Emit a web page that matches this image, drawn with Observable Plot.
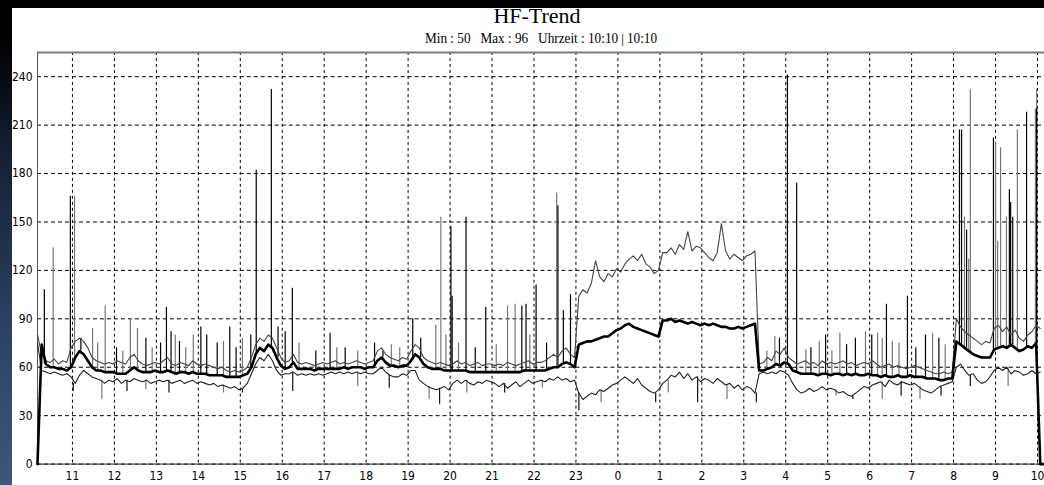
<!DOCTYPE html>
<html>
<head>
<meta charset="utf-8">
<script src="https://cdn.jsdelivr.net/npm/d3@7"></script>
<script src="https://cdn.jsdelivr.net/npm/@observablehq/plot@0.6"></script>
<style>
html, body { margin: 0; padding: 0; background: #000; width: 1044px; height: 485px; overflow: hidden; }
#strip { position: absolute; left: 0; top: 0; width: 12px; height: 485px;
  background: linear-gradient(#000 0%, #000 8%, #141e30 30%, #2c3f5e 65%, #3f5779 100%); }
#panel { position: absolute; left: 12px; top: 8px; width: 1032px; height: 477px; background: #fff; }
#title { position: absolute; left: 537px; top: 5px; transform: translateX(-50%);
  font-family: "Liberation Serif", "DejaVu Serif", serif; font-size: 22px; line-height: 22px;
  white-space: nowrap; color: #000; }
#subtitle { position: absolute; left: 541px; top: 30px;
  font-family: "Liberation Serif", "DejaVu Serif", serif; font-size: 15.5px; line-height: 15.5px;
  white-space: nowrap; color: #000; transform-origin: 50% 50%; }
#subtitle b { font-size: 0.75em; color: #000; }
#chart { position: absolute; left: 12px; top: 44px; }
</style>
</head>
<body>
<div id="strip"></div>
<div id="panel"></div>
<div id="title">HF-Trend</div>
<div id="subtitle">Min : 50&nbsp;&nbsp;&nbsp;Max : 96&nbsp;&nbsp;&nbsp;Uhrzeit : 10:10 <b>|</b> 10:10</div>
<div id="chart"></div>
<script>
// time axis: hours, first sample at 10:10, one sample every 6 minutes; values after midnight are 24+
const startHour = 10 + 10 / 60;
const stepHours = 0.1;
const yDomain = [0, 255];
const yTicks = [0, 30, 60, 90, 120, 150, 180, 210, 240];
const hourTicks = [11, 12, 13, 14, 15, 16, 17, 18, 19, 20, 21, 22, 23, 24, 25, 26, 27, 28, 29, 30, 31, 32, 33, 34];

// upper band (max), one row per hour starting 10:10
const upper = [
  80, 68, 64, 63, 65, 62, 64, 63, 72, 76,
  78, 76, 72, 66, 64, 63, 62, 63, 62, 64,
  63, 62, 66, 68, 64, 62, 61, 62, 63, 62,
  64, 66, 62, 61, 63, 62, 61, 64, 62, 61,
  62, 61, 60, 59, 60, 58, 57, 58, 57, 58,
  60, 66, 74, 78, 76, 80, 78, 72, 66, 63,
  64, 68, 63, 62, 63, 62, 61, 62, 63, 62,
  63, 64, 62, 63, 62, 63, 64, 63, 62, 63,
  64, 70, 72, 68, 66, 65, 64, 66, 65, 70,
  74, 72, 66, 64, 63, 62, 63, 62, 61, 62,
  64, 62, 63, 61, 62, 63, 61, 62, 62, 61,
  62, 61, 63, 62, 61, 62, 63, 64, 62, 63,
  63, 64, 66, 68, 66, 70, 72, 68, 66, 104,
  108, 106, 112, 126, 116, 113, 118, 116, 121, 119,
  124, 127, 129, 126, 130, 124, 122, 118, 120, 131,
  131, 134, 130, 136, 133, 144, 132, 135, 134, 131,
  128, 126, 131, 149, 132, 127, 130, 128, 126, 129,
  130, 132, 62, 63, 66, 64, 70, 68, 72, 66,
  64, 62, 63, 64, 62, 63, 61, 64, 62, 63,
  62, 63, 64, 62, 63, 61, 62, 63, 62, 64,
  62, 60, 61, 62, 60, 61, 60, 59, 60, 61,
  60, 59, 58, 57, 56, 56, 57, 56, 57, 90,
  85, 82, 80, 78, 76, 74, 76, 75, 84, 86,
  82, 85, 80, 83, 78, 76, 80, 82, 86, 84
];

// mean (bold)
const mean = [
  0, 74, 62, 60, 60, 59, 59, 58, 60, 66,
  70, 68, 64, 60, 58, 58, 57, 57, 57, 56,
  56, 56, 58, 60, 58, 57, 57, 57, 58, 57,
  57, 58, 57, 56, 57, 57, 56, 57, 56, 56,
  56, 55, 55, 55, 55, 54, 54, 54, 54, 55,
  56, 60, 68, 72, 70, 74, 72, 66, 61, 59,
  60, 63, 59, 59, 59, 59, 58, 59, 59, 59,
  59, 59, 59, 60, 59, 60, 60, 60, 59, 60,
  60, 64, 66, 63, 61, 61, 60, 61, 61, 64,
  68, 66, 62, 60, 59, 59, 59, 58, 58, 58,
  58, 58, 58, 57, 57, 57, 57, 57, 57, 57,
  57, 57, 57, 57, 57, 57, 58, 58, 58, 58,
  58, 58, 59, 60, 60, 62, 63, 62, 60, 74,
  75, 76, 76, 77, 78, 79, 79, 81, 83, 84,
  86, 87, 85, 84, 83, 82, 81, 80, 79, 89,
  89, 90, 88, 89, 88, 87, 88, 87, 86, 87,
  86, 87, 86, 85, 85, 84, 84, 85, 84, 85,
  86, 87, 58, 58, 59, 60, 62, 61, 63, 62,
  58, 57, 56, 56, 56, 56, 55, 56, 56, 55,
  56, 56, 55, 56, 55, 56, 55, 55, 56, 55,
  55, 54, 55, 54, 54, 55, 54, 54, 55, 54,
  54, 54, 53, 53, 53, 52, 52, 53, 53, 76,
  74, 72, 70, 68, 67, 66, 66, 66, 71, 72,
  73, 72, 74, 72, 70, 71, 73, 72, 75, 0,
  0
];

// lower band (min)
const lower = [
  75, 58, 57, 56, 57, 56, 55, 56, 54, 50,
  55, 58, 56, 54, 53, 52, 50, 52, 51, 53,
  50, 52, 51, 53, 52, 51, 52, 50, 51, 52,
  51, 52, 50, 51, 52, 50, 51, 52, 50, 51,
  50, 49, 50, 48, 49, 48, 47, 48, 46, 47,
  50, 56, 62, 66, 64, 68, 64, 58, 55, 56,
  56, 57, 55, 56, 55, 56, 55, 56, 55, 56,
  57, 56, 57, 56, 57, 56, 57, 56, 57, 56,
  56, 58, 60, 57, 55, 54, 54, 56, 55, 58,
  58, 52, 50, 48, 47, 46, 47, 48, 46, 50,
  52, 50, 52, 50, 49, 51, 50, 52, 51, 50,
  48, 50, 47, 49, 51, 48, 50, 52, 50, 51,
  52, 51, 53, 52, 54, 52, 53, 51, 52, 44,
  40, 42, 44, 43, 46, 45, 47, 49, 50, 52,
  54, 52, 50, 53, 49, 47, 45, 44, 46, 50,
  52, 55, 54, 57, 53, 56, 52, 54, 51, 53,
  52, 50, 53, 51, 49, 50, 47, 49, 46, 48,
  47, 44, 56, 57, 56, 57, 56, 58, 57, 55,
  50, 46, 44, 45, 47, 45, 46, 48, 46, 47,
  46, 44, 45, 43, 42, 44, 46, 48, 47, 49,
  50, 51, 48, 52, 50, 49, 51, 50, 49, 50,
  48, 46, 45, 44, 46, 48, 49, 50, 51, 60,
  62, 58, 55, 56, 52, 50, 51, 54, 58, 60,
  58, 60, 56, 58, 57, 55, 56, 58, 56, 57
];

// short upward peaks: [hour, peak value]
const peaksDark = [
  [10.33, 108], [10.95, 166], [11.20, 78], [12.05, 72], [12.75, 78], [13.10, 75], [13.24, 97],
  [13.35, 82], [13.55, 76], [14.06, 85], [14.20, 80], [14.45, 75], [14.75, 85], [14.90, 72],
  [15.25, 80], [15.38, 182], [15.74, 232], [15.90, 85], [16.07, 82], [16.24, 109], [16.80, 70],
  [17.14, 81], [17.50, 72], [18.20, 75], [18.40, 70], [19.11, 90], [19.30, 78], [20.02, 147],
  [20.05, 104], [20.38, 153], [20.60, 72], [20.85, 97], [21.71, 98], [21.81, 99], [22.05, 111],
  [22.30, 75], [22.57, 160], [22.70, 95], [22.87, 105],
  [27.85, 78], [28.04, 241], [28.26, 174], [28.60, 72], [28.95, 80], [29.45, 74], [29.66, 78],
  [30.05, 80], [30.40, 99], [30.90, 104], [31.10, 72], [31.33, 80], [31.65, 78],
  [32.14, 207], [32.19, 207], [32.31, 145], [32.95, 202], [33.33, 170], [33.36, 162],
  [33.41, 153], [33.74, 218], [33.98, 220]
];
const peaksGray = [
  [10.54, 134], [11.05, 166], [11.48, 84], [11.60, 75], [11.78, 98], [12.20, 70], [12.38, 90],
  [12.55, 84], [12.90, 72], [13.45, 80], [13.70, 72], [13.88, 80], [14.60, 76], [15.05, 78],
  [16.40, 75], [17.30, 72], [17.80, 70], [18.60, 74], [18.80, 72], [19.66, 86], [19.78, 153],
  [19.90, 80], [20.20, 75], [21.10, 74], [21.37, 98], [21.55, 99], [21.90, 80], [22.54, 168],
  [27.55, 70], [27.74, 79], [28.48, 71], [28.80, 76], [29.10, 70], [29.29, 81], [29.90, 82],
  [30.19, 81], [30.30, 78], [30.54, 76], [30.70, 75], [31.50, 81], [31.80, 74],
  [32.26, 153], [32.36, 127], [32.40, 232], [33.00, 199], [33.05, 138], [33.12, 196],
  [33.26, 153], [33.52, 207], [33.95, 220], [33.98, 232]
];
// short downward dips below the lower band: [hour, lowest value]
const dipsDark = [
  [11.02, 45], [12.30, 45], [13.30, 44], [15.05, 44], [16.25, 45], [18.55, 47], [19.75, 37],
  [21.30, 44], [23.07, 33], [24.90, 38], [25.90, 38], [27.30, 38], [28.40, 44], [29.60, 40],
  [30.75, 42], [31.70, 42], [32.40, 48]
];
const dipsGray = [
  [11.70, 40], [12.75, 46], [14.60, 44], [17.80, 48], [19.50, 40], [20.40, 44], [22.20, 47],
  [23.60, 38], [25.20, 44], [26.60, 40], [29.20, 42], [30.30, 40], [31.20, 40], [32.70, 50],
  [33.30, 48]
];

const timeAt = (d, i) => startHour + i * stepHours;
const seriesAt = (s, h) => s[Math.max(0, Math.min(s.length - 1, Math.round((h - startHour) / stepHours)))];

const font = '"Liberation Sans Narrow", "Arial Narrow", "DejaVu Sans Condensed", sans-serif';

const chart = Plot.plot({
  width: 1033,
  height: 441,
  marginLeft: 25,
  marginRight: 0,
  marginTop: 8,
  marginBottom: 21,
  style: { background: "transparent", fontFamily: font, fontSize: "12px", color: "#000", overflow: "visible" },
  x: { domain: [startHour, startHour + 24] },
  y: { domain: yDomain },
  marks: [
    Plot.gridY(yTicks, { stroke: "#000", strokeOpacity: 1, strokeDasharray: "4,3" }),
    Plot.gridX(hourTicks, { stroke: "#000", strokeOpacity: 1, strokeDasharray: "3,3" }),
    Plot.axisY(yTicks, { tickSize: 0, tickPadding: 5, label: null, fontSize: 12 }),
    Plot.axisX(hourTicks, { tickSize: 0, tickPadding: 7, label: null, fontSize: 12, tickFormat: d => d % 24 }),
    Plot.ruleY([yDomain[1]], { stroke: "#7a7a7a", strokeWidth: 2 }),
    Plot.ruleX([startHour], { stroke: "#555", strokeWidth: 1 }),
    Plot.ruleY([0], { stroke: "#222", strokeWidth: 1 }),
    Plot.ruleX(dipsGray, { x: d => d[0], y1: d => seriesAt(lower, d[0]), y2: d => d[1], stroke: "#777", strokeWidth: 1.2 }),
    Plot.ruleX(dipsDark, { x: d => d[0], y1: d => seriesAt(lower, d[0]), y2: d => d[1], stroke: "#111", strokeWidth: 1.2 }),
    Plot.ruleX(peaksGray, { x: d => d[0], y1: d => seriesAt(mean, d[0]), y2: d => d[1], stroke: "#777", strokeWidth: 1.2 }),
    Plot.ruleX(peaksDark, { x: d => d[0], y1: d => seriesAt(mean, d[0]), y2: d => d[1], stroke: "#000", strokeWidth: 1.2 }),
    Plot.line(lower, { x: timeAt, y: d => d, stroke: "#222", strokeWidth: 1.1 }),
    Plot.line(upper, { x: timeAt, y: d => d, stroke: "#444", strokeWidth: 1.1 }),
    Plot.line(mean, { x: timeAt, y: d => d, stroke: "#000", strokeWidth: 2.6 })
  ]
});
document.getElementById("chart").appendChild(chart);

// compress the subtitle horizontally like the reference
const sub = document.getElementById("subtitle");
const w = sub.getBoundingClientRect().width;
sub.style.transform = `translateX(-50%) scaleX(${(232 / w).toFixed(3)})`;
</script>
</body>
</html>
